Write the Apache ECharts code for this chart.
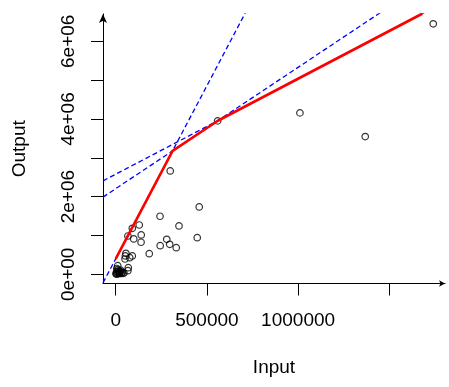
<!DOCTYPE html>
<html>
<head>
<meta charset="utf-8">
<script src="https://cdn.jsdelivr.net/npm/echarts@6/dist/echarts.min.js"></script>
<style>html,body{margin:0;padding:0;background:#fff}#c{width:449px;height:387px}</style>
</head>
<body>
<div id="c"></div>
<script>
// Observed points (Input, Output)
const inputs = [1741000, 1010000, 1368000, 559000, 299000, 458000, 243000, 347000, 129000, 91000,
  67000, 99000, 140000, 139000, 280000, 244000, 296000, 332000, 447000, 184000,
  56000, 53000, 51000, 91000, 77000, 69000, 67000, 11000,
  2000, 5000, 8000, 12000, 15000, 18000, 22000, 25000, 30000, 35000, 40000, 10000, 3000, 45000, 28000, 6000, 20000];
const outputs = [6450000, 4157000, 3547000, 3951000, 2662000, 1735000, 1495000, 1245000, 1270000, 1185000,
  987000, 910000, 1013000, 825000, 902000, 737000, 773000, 686000, 943000, 531000,
  541000, 472000, 394000, 472000, 428000, 170000, 93000, 222000,
  20000, 60000, 10000, 40000, 90000, 15000, 30000, 70000, 20000, 50000, 25000, 120000, 5000, 35000, 100000, 150000, 55000];
// Frontier vertices (red line)
const frontierX = [0, 312000, 560000, 1680000];
const frontierY = [400000, 3180000, 3955000, 6710000];
// Axes
const xMin = -69600, xMax = 1805400;
const yMin = -236900, yMax = 6703500;
const xTicks = [0, 500000, 1000000, 1500000];
const xLabelValues = [0, 500000, 1000000];
const yTicks = [0, 1000000, 2000000, 3000000, 4000000, 5000000, 6000000];
const yLabelValues = [0, 2000000, 4000000, 6000000];
const yLabelTexts = ['0e+00', '2e+06', '4e+06', '6e+06'];

const points = inputs.map((x, i) => [x, outputs[i]]);
const frontier = frontierX.map((x, i) => [x, frontierY[i]]);
// Extensions of each frontier segment across the plot (dashed)
const extensions = [];
for (let i = 0; i < frontierX.length - 1; i++) {
  const s = (frontierY[i + 1] - frontierY[i]) / (frontierX[i + 1] - frontierX[i]);
  const f = x => frontierY[i] + s * (x - frontierX[i]);
  extensions.push([[xMin, f(xMin)], [xMax, f(xMax)]]);
}

const font = 'Liberation Sans, Arial, sans-serif';
const chart = echarts.init(document.getElementById('c'), null, {renderer: 'canvas'});
const dashed = extensions.map(d => ({
  type: 'line', data: d, showSymbol: false, clip: true, silent: true, z: 2,
  lineStyle: {color: '#0000ff', width: 1.3, type: [5, 3]}
}));
chart.setOption({
  animation: false,
  backgroundColor: '#fff',
  grid: {left: 103, right: 4, top: 14, bottom: 103.5},
  xAxis: {
    type: 'value', min: xMin, max: xMax,
    name: 'Input', nameLocation: 'middle', nameGap: 75,
    nameTextStyle: {fontFamily: font, fontSize: 19, color: '#000'},
    axisLine: {show: true, onZero: false, lineStyle: {color: '#000', width: 1}, symbol: ['none', 'arrow'], symbolSize: [5, 6]},
    axisTick: {show: true, length: 12, lineStyle: {color: '#000'}, customValues: xTicks},
    axisLabel: {show: true, margin: 28, fontFamily: font, fontSize: 19, color: '#000', customValues: xLabelValues,
      formatter: v => String(v)},
    splitLine: {show: false}
  },
  yAxis: {
    type: 'value', min: yMin, max: yMax,
    name: 'Output', nameLocation: 'middle', nameGap: 74, nameRotate: 90,
    nameTextStyle: {fontFamily: font, fontSize: 19, color: '#000'},
    axisLine: {show: true, onZero: false, lineStyle: {color: '#000', width: 1}, symbol: ['none', 'arrow'], symbolSize: [6, 9]},
    axisTick: {show: true, length: 12, lineStyle: {color: '#000'}, customValues: yTicks},
    axisLabel: {show: true, margin: 25, rotate: 90, fontFamily: font, fontSize: 19, color: '#000', customValues: yLabelValues,
      formatter: v => { const i = yLabelValues.indexOf(v); return i >= 0 ? yLabelTexts[i] : ''; }},
    splitLine: {show: false}
  },
  series: [
    {type: 'scatter', data: points, symbol: 'circle', symbolSize: 6.5, z: 1,
      itemStyle: {color: 'rgba(0,0,0,0)', borderColor: '#000', borderWidth: 1.2}},
    ...dashed,
    {type: 'line', data: frontier, showSymbol: false, clip: true, z: 3,
      lineStyle: {color: '#ff0000', width: 2.6}}
  ]
});
</script>
</body>
</html>
